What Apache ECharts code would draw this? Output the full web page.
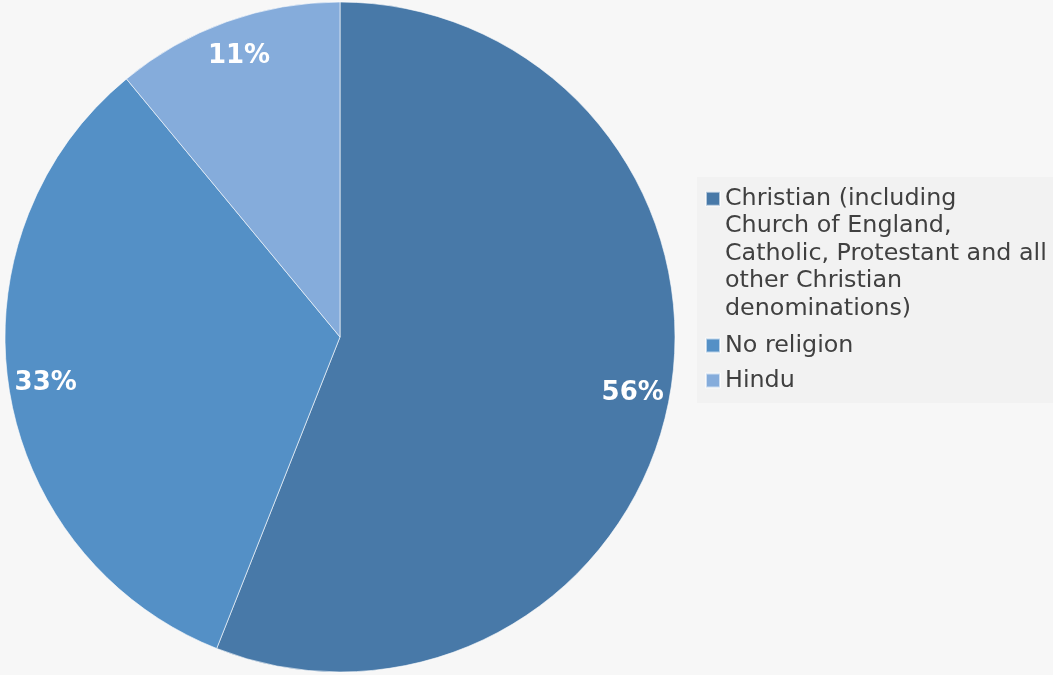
<!DOCTYPE html>
<html>
<head>
<meta charset="utf-8">
<script src="https://cdn.jsdelivr.net/npm/echarts@6/dist/echarts.min.js"></script>
<style>
html,body{margin:0;padding:0;background:#f7f7f7;}
#chart{width:1053px;height:675px;}
</style>
</head>
<body>
<div id="chart"></div>
<script>
const categories = [
  'Christian (including\nChurch of England,\nCatholic, Protestant and all\nother Christian\ndenominations)',
  'No religion',
  'Hindu'
];
const values = [56, 33, 11];
const colors = ['#4879a8', '#5490c6', '#85acdb'];

const chart = echarts.init(document.getElementById('chart'), null, {renderer: 'canvas'});
const pieData = categories.map((c, i) => ({name: c, value: values[i], itemStyle: {color: colors[i]}}));
const labelData = categories.map((c, i) => ({name: c, value: values[i]}));

const option = {
  backgroundColor: '#f7f7f7',
  animation: false,
  graphic: [{
    type: 'rect', left: 697, top: 177, z: -10,
    shape: {width: 360, height: 226},
    style: {fill: '#f2f2f2'}
  }],
  legend: {
    orient: 'vertical',
    left: 705,
    top: 75,
    padding: 0,
    itemWidth: 14,
    itemHeight: 14,
    itemGap: 11,
    itemTextGap: 10,
    icon: 'rect',
    selectedMode: false,
    textStyle: {fontFamily: 'DejaVu Sans', fontSize: 23.8, color: '#404040', lineHeight: 24},
    formatter: name => name === categories[0] ? '\n\n\n\n' + name : name,
    data: categories.map((c, i) => i === 0
      ? {name: c, textStyle: {lineHeight: 27.5}}
      : {name: c})
  },
  series: [{
    type: 'pie',
    center: [340, 337],
    radius: [0, 335],
    startAngle: 90,
    clockwise: true,
    silent: true,
    label: {show: false},
    labelLine: {show: false},
    itemStyle: {borderColor: 'rgba(255,255,255,0.6)', borderWidth: 1},
    data: pieData
  }, {
    type: 'pie',
    center: [340, 337],
    radius: [0, 590],
    startAngle: 90,
    clockwise: true,
    silent: true,
    z: 5,
    itemStyle: {color: 'rgba(0,0,0,0)', borderWidth: 0},
    label: {
      show: true, position: 'inside',
      fontFamily: 'DejaVu Sans', fontWeight: 'bold', fontSize: 26, color: '#ffffff',
      formatter: p => Math.round(p.percent) + '%'
    },
    labelLine: {show: false},
    data: labelData
  }]
};
chart.setOption(option);
</script>
</body>
</html>
